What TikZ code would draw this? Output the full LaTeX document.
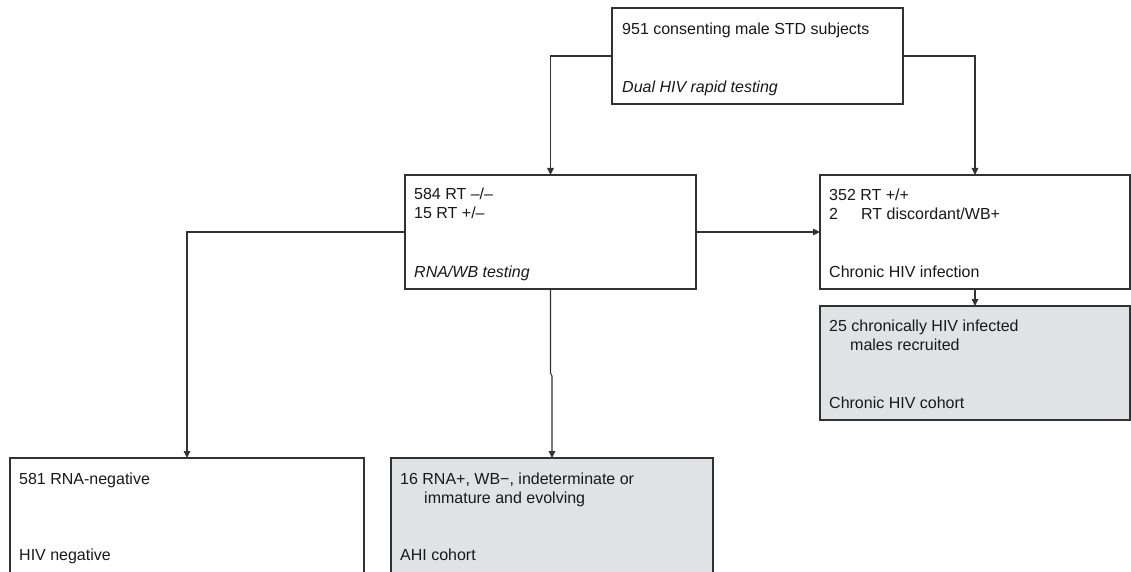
\documentclass[tikz,border=0pt]{standalone}
\usepackage{fontspec}
\setmainfont{Liberation Sans}
\usetikzlibrary{arrows.meta}
\definecolor{cohortgray}{RGB}{225,226,228}
\definecolor{linegray}{RGB}{50,50,50}
\begin{document}
\begin{tikzpicture}[x=1pt,y=-1pt,
  box/.style={draw=linegray, line width=1.1pt, fill=white, anchor=north west, inner sep=0pt, outer sep=0pt},
  graybox/.style={box, fill=cohortgray},
  lbl/.style={anchor=base west, inner sep=0pt, font=\fontsize{16}{19}\selectfont, text=black!90},
  ilbl/.style={lbl, font=\fontsize{16}{19}\selectfont\itshape},
  arr/.style={draw=linegray, line width=1.1pt, -{Triangle[length=7pt,width=6.5pt]}},
]
\clip (0,0) rectangle (1131,572);
\fill[white] (0,0) rectangle (1131,572);

% boxes
\node[box, minimum width=291pt, minimum height=96pt] (top) at (612,8) {};
\node[box, minimum width=291pt, minimum height=114pt] (mid) at (405,175) {};
\node[box, minimum width=310pt, minimum height=114pt] (chr) at (820,175) {};
\node[graybox, minimum width=310pt, minimum height=114pt] (chc) at (820,306) {};
\node[box, minimum width=354pt, minimum height=124pt] (neg) at (10,458) {};
\node[graybox, minimum width=322pt, minimum height=124pt] (ahi) at (391,458) {};

% texts
\node[lbl] (topa) at (622,35) {951 consenting male STD subjects};
\node[ilbl] (topb) at (622,93) {Dual HIV rapid testing};

\node[lbl] (mida) at (414,199) {584 RT –/–};
\node[lbl] (midb) at (414,218) {15 RT +/–};
\node[ilbl] (midc) at (414,277) {RNA/WB testing};

\node[lbl] (chra) at (829,200) {352 RT +/+};
\node[lbl] (chrb1) at (829,219) {2};
\node[lbl] (chrb2) at (861,219) {RT discordant/WB+};
\node[lbl] (chrc) at (829,277) {Chronic HIV infection};

\node[lbl] (chca) at (829,331) {25 chronically HIV infected};
\node[lbl] (chcb) at (850,350) {males recruited};
\node[lbl] (chcc) at (829,408) {Chronic HIV cohort};

\node[lbl] (nega) at (19,484) {581 RNA-negative};
\node[lbl] (negb) at (19,560) {HIV negative};

\node[lbl] (ahia) at (400,484) {16 RNA+, WB−, indeterminate or};
\node[lbl] (ahib) at (424,503) {immature and evolving};
\node[lbl] (ahic) at (400,560) {AHI cohort};

% connectors
\coordinate (jog1) at (550.5,373);
\coordinate (jog2) at (552,376);
\draw[arr] (top.west) -| (mid.north);
\draw[arr] (top.east) -| (chr.north);
\draw[arr] (mid.west) -| (neg.north);
\draw[arr] (mid.east) -- (chr.west);
\draw[arr] (chr.south) -- (chc.north);
\draw[arr] (mid.south) -- (jog1) -- (jog2) -- (ahi.north);
\end{tikzpicture}
\end{document}
